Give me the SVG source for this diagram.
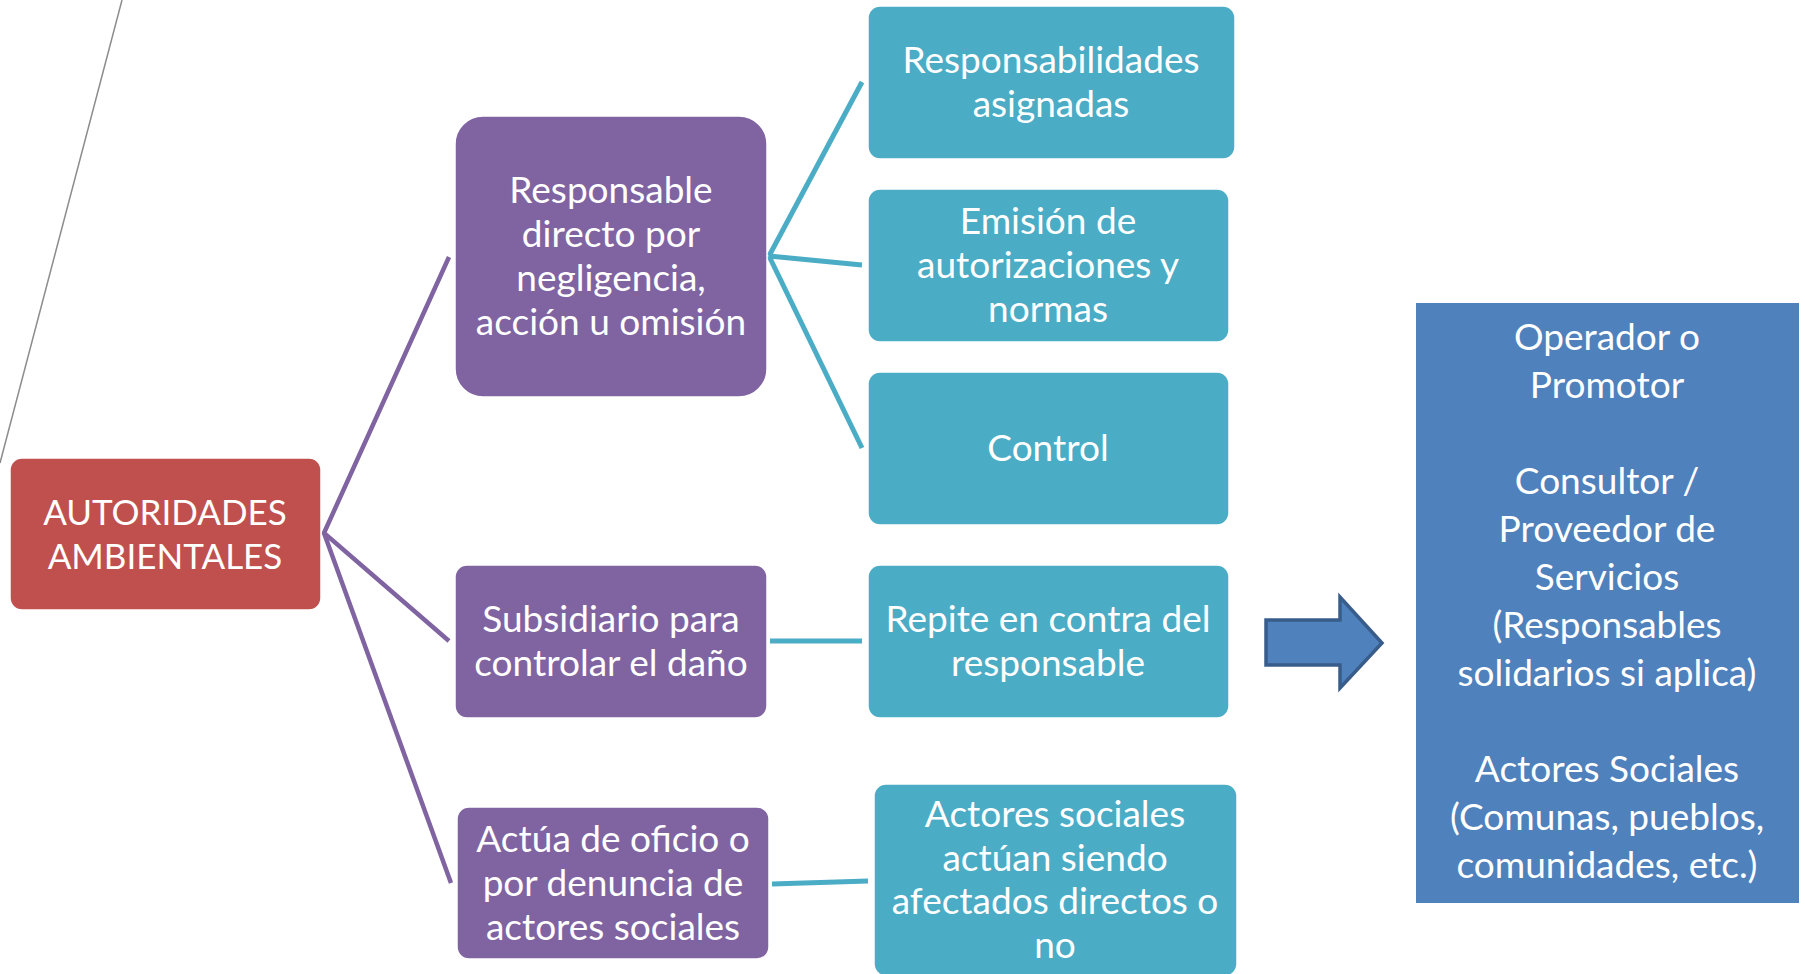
<svg xmlns="http://www.w3.org/2000/svg" width="1805" height="974" viewBox="0 0 1805 974">
<style>
text{font-family:Lato,"Open Sans","DejaVu Sans",sans-serif;font-size:37px;fill:#fff;text-anchor:middle}
.caps{font-size:35px}
.red{fill:#C0504D}
.pur{fill:#8064A2}
.teal{fill:#4BACC6}
.blue{fill:#4F81BD}
.box{stroke:#fff;stroke-width:1.5}
.lp{stroke:#8064A2;stroke-width:4.5;fill:none}
.lt{stroke:#4BACC6;stroke-width:5;fill:none}
</style>
<rect width="1805" height="974" fill="#fff"/>
<line x1="122" y1="0" x2="0" y2="463" stroke="#8C8C8C" stroke-width="1.5"/>
<g id="connectors">
<polyline class="lp" points="449,257 324,533 449,641"/>
<line class="lp" x1="324" y1="533" x2="451" y2="883"/>
<line class="lt" x1="769" y1="256" x2="862" y2="82"/>
<line class="lt" x1="769" y1="256" x2="862" y2="265"/>
<line class="lt" x1="769" y1="256" x2="862" y2="448"/>
<line class="lt" x1="770" y1="641" x2="862" y2="641"/>
<line class="lt" x1="772" y1="884" x2="868" y2="881"/>
</g>
<g id="n-autoridades">
<rect class="red box" x="10" y="458" width="311" height="152" rx="12"/>
<text class="caps" x="165" y="525">AUTORIDADES</text>
<text class="caps" x="165" y="569">AMBIENTALES</text>
</g>
<g id="n-directo">
<rect class="pur box" x="455" y="116" width="312" height="281" rx="28"/>
<text x="611" y="203">Responsable</text>
<text x="611" y="247">directo por</text>
<text x="611" y="291">negligencia,</text>
<text x="611" y="335">acción u omisión</text>
</g>
<g id="n-subsidiario">
<rect class="pur box" x="455" y="565" width="312" height="153" rx="12"/>
<text x="611" y="632">Subsidiario para</text>
<text x="611" y="676">controlar el daño</text>
</g>
<g id="n-actua">
<rect class="pur box" x="457" y="807" width="312" height="152" rx="12"/>
<text x="613" y="852">Actúa de oficio o</text>
<text x="613" y="896">por denuncia de</text>
<text x="613" y="940">actores sociales</text>
</g>
<g id="n-responsabilidades">
<rect class="teal box" x="868" y="6" width="367" height="153" rx="12"/>
<text x="1051" y="73">Responsabilidades</text>
<text x="1051" y="117">asignadas</text>
</g>
<g id="n-emision">
<rect class="teal box" x="868" y="189" width="361" height="153" rx="12"/>
<text x="1048" y="234">Emisión de</text>
<text x="1048" y="278">autorizaciones y</text>
<text x="1048" y="322">normas</text>
</g>
<g id="n-control">
<rect class="teal box" x="868" y="372" width="361" height="153" rx="12"/>
<text x="1048" y="461">Control</text>
</g>
<g id="n-repite">
<rect class="teal box" x="868" y="565" width="361" height="153" rx="12"/>
<text x="1048" y="632">Repite en contra del</text>
<text x="1048" y="676">responsable</text>
</g>
<g id="n-actores">
<rect class="teal box" x="874" y="784" width="363" height="192" rx="12"/>
<text x="1055" y="827">Actores sociales</text>
<text x="1055" y="871">actúan siendo</text>
<text x="1055" y="914">afectados directos o</text>
<text x="1055" y="958">no</text>
</g>
<g id="n-arrow">
<polygon points="1266,620 1340,620 1340,597 1382,643 1340,688 1340,665 1266,665" fill="#4F81BD" stroke="#385D8A" stroke-width="3.5" stroke-linejoin="miter"/>
</g>
<g id="n-operador">
<rect class="blue" x="1416" y="303" width="383" height="600"/>
<text x="1607" y="350">Operador o</text>
<text x="1607" y="398">Promotor</text>
<text x="1607" y="494">Consultor /</text>
<text x="1607" y="542">Proveedor de</text>
<text x="1607" y="590">Servicios</text>
<text x="1607" y="638">(Responsables</text>
<text x="1607" y="686">solidarios si aplica)</text>
<text x="1607" y="782">Actores Sociales</text>
<text x="1607" y="830">(Comunas, pueblos,</text>
<text x="1607" y="878">comunidades, etc.)</text>
</g>
</svg>
